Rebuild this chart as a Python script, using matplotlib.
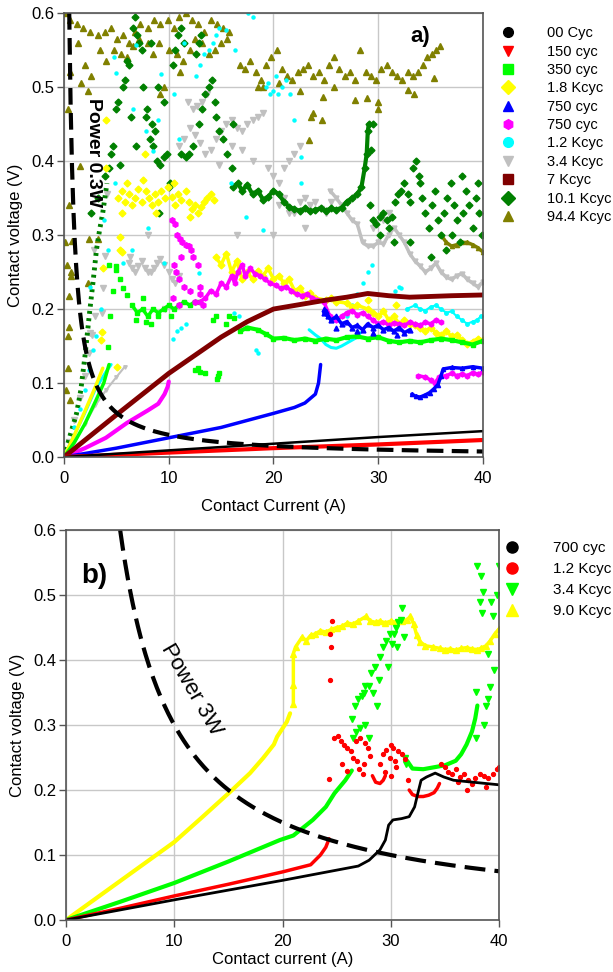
import matplotlib
matplotlib.use("Agg")
import matplotlib.pyplot as plt
from matplotlib.lines import Line2D
import numpy as np

plt.rcParams['font.family'] = ['Liberation Sans', 'DejaVu Sans']

# ---------------- panel a) data (contact current A, contact voltage V) ----------------
POWER_A = 0.3
a_black = [(0, 0), (10, 0.009), (20, 0.018), (30, 0.027), (40, 0.035)]
a_red = [(0, 0), (10, 0.006), (20, 0.012), (30, 0.017), (40, 0.023)]

a_lime_rise = [(0, 0), (1, 0.02), (2, 0.045), (3, 0.075), (3.8, 0.1), (4.3, 0.125)]
a_lime_band1 = [(6.5, 0.205), (7, 0.195), (7.5, 0.2), (8, 0.19), (8.5, 0.2), (9, 0.195), (9.5, 0.2),
                (10, 0.205), (10.5, 0.2), (11, 0.205), (11.5, 0.21), (12, 0.205), (12.5, 0.21), (13, 0.21)]
a_lime_pts = [(4.2, 0.149), (4.4, 0.19), (4.7, 0.225), (5, 0.253), (5.3, 0.24), (5.6, 0.228), (6, 0.219),
              (4.3, 0.26), (5, 0.258), (6.9, 0.185), (7.5, 0.215), (8.3, 0.18), (9, 0.19), (12.5, 0.118),
              (13, 0.115), (13.5, 0.113), (12.8, 0.12), (14.6, 0.105), (14.7, 0.11), (14.8, 0.113),
              (14.2, 0.185), (14.5, 0.19), (15.5, 0.18), (15.8, 0.19), (16.2, 0.188), (7.8, 0.182), (10.2, 0.19)]
a_lime_band2 = [(16.8, 0.17), (17.5, 0.175), (18.5, 0.172), (19.3, 0.166), (20, 0.16), (21, 0.161),
                (22, 0.158), (23, 0.16), (24, 0.157), (25, 0.16), (26, 0.158), (27, 0.162), (28, 0.163),
                (29, 0.16), (30, 0.162), (31, 0.157), (32, 0.155), (33, 0.157), (34, 0.155), (35, 0.158),
                (36, 0.16), (37, 0.158), (38, 0.155), (39, 0.152), (40, 0.157)]

a_yellow_rise = [(0, 0), (1, 0.03), (2, 0.062), (3, 0.095), (3.7, 0.12)]
a_yellow_pts = [(5.2, 0.35), (5.5, 0.36), (5.8, 0.345), (6.2, 0.355), (6.5, 0.34), (6.8, 0.35), (7.1, 0.362),
                (7.4, 0.345), (7.8, 0.36), (8.1, 0.35), (8.4, 0.34), (8.7, 0.355), (9.0, 0.345), (9.3, 0.36),
                (9.6, 0.35), (9.9, 0.365), (10.3, 0.352), (10.6, 0.34), (10.9, 0.355), (11.2, 0.348),
                (11.6, 0.36), (11.9, 0.345), (12.2, 0.335), (12.5, 0.34), (12.8, 0.33), (13.1, 0.338),
                (13.4, 0.345), (13.7, 0.35), (14.0, 0.355), (14.3, 0.348), (5.5, 0.33), (6.0, 0.37),
                (7.5, 0.375), (8.8, 0.33), (10.5, 0.37), (12.0, 0.325), (4.0, 0.456), (4.0, 0.39), (7.7, 0.41),
                (3.7, 0.255), (3.5, 0.158), (5.1, 0.122), (5.3, 0.28), (5.5, 0.277), (5.3, 0.298), (3.6, 0.169),
                (31.7, 0.205), (29, 0.212)]
a_yellow_band = [(14.5, 0.27), (15, 0.26), (15.5, 0.275), (16, 0.25), (16.5, 0.265), (17, 0.24), (17.5, 0.25),
                 (18, 0.24), (18.5, 0.252), (19, 0.245), (19.5, 0.255), (20, 0.24), (20.5, 0.245), (21, 0.235),
                 (21.5, 0.24), (22, 0.225), (22.5, 0.228), (23, 0.218), (23.5, 0.222), (24, 0.215),
                 (25, 0.212), (25.5, 0.215), (26, 0.21), (27, 0.208), (27.5, 0.203), (28, 0.205), (29, 0.2),
                 (29.5, 0.195), (30, 0.19), (30.5, 0.197), (31, 0.185), (31.5, 0.19), (32, 0.18),
                 (32.5, 0.185), (33, 0.18), (33.5, 0.178), (34, 0.175), (34.5, 0.17), (35, 0.175),
                 (35.5, 0.168), (36, 0.165), (36.5, 0.17), (37, 0.163), (37.5, 0.165), (38, 0.158),
                 (38.5, 0.153), (39, 0.156), (39.5, 0.16), (40, 0.158)]

a_blue_rise = [(0, 0), (5, 0.012), (10, 0.026), (15, 0.04), (20, 0.059), (22, 0.067), (23, 0.073),
               (24, 0.085), (24.3, 0.1), (24.5, 0.125)]
a_blue_band = [(24.8, 0.195), (25.2, 0.19), (25.5, 0.185), (26, 0.19), (26.5, 0.18), (27, 0.183),
               (27.5, 0.175), (28, 0.178), (28.5, 0.172), (29, 0.18), (29.5, 0.175), (30, 0.178),
               (30.5, 0.172), (31, 0.175), (31.5, 0.17), (32, 0.175), (32.5, 0.168), (33, 0.172)]
a_blue_pts = [(24.8, 0.2), (25, 0.198), (26, 0.175), (28, 0.17), (29.5, 0.167), (31.8, 0.165)]
a_blue_low = [(33.2, 0.085), (33.6, 0.082), (34, 0.081), (34.5, 0.084), (34.9, 0.087), (35.3, 0.092),
              (35.7, 0.098), (36, 0.11), (36.2, 0.119), (37, 0.121), (38, 0.12), (39, 0.122), (40, 0.12)]

a_mag_rise = [(0, 0), (2, 0.012), (4, 0.026), (6, 0.046), (8, 0.063), (9, 0.072), (9.6, 0.085),
              (9.9, 0.095), (10, 0.102)]
a_mag_pts = [(10.3, 0.32), (10.6, 0.315), (10.8, 0.3), (11.1, 0.295), (11.3, 0.29), (11.6, 0.287),
             (11.9, 0.285), (12.1, 0.28), (10.5, 0.26), (10.7, 0.25), (11, 0.24), (11.2, 0.27), (10.4, 0.215),
             (11.5, 0.23), (12, 0.225), (12.5, 0.21), (13, 0.22), (13.3, 0.205), (11, 0.205), (12.3, 0.27),
             (12.8, 0.26), (13, 0.23)]
a_mag_band = [(13, 0.21), (13.5, 0.215), (14, 0.225), (14.5, 0.22), (15, 0.235), (15.5, 0.23), (16, 0.245),
              (16.3, 0.235), (16.6, 0.25), (17, 0.26), (17.3, 0.245), (17.8, 0.255), (18.2, 0.248),
              (18.7, 0.245), (19.2, 0.24), (19.7, 0.235), (20.2, 0.232), (20.7, 0.228), (21.2, 0.23),
              (21.7, 0.225), (22.2, 0.22), (22.7, 0.218), (23.2, 0.22), (23.7, 0.215), (24.2, 0.212),
              (24.8, 0.21), (25.4, 0.19), (26, 0.185), (26.5, 0.19), (27, 0.195), (27.5, 0.198), (28, 0.192),
              (28.5, 0.195), (29, 0.19), (29.5, 0.185), (30, 0.18), (30.5, 0.183), (31, 0.178),
              (31.5, 0.181), (32, 0.18), (32.5, 0.178), (33, 0.182), (33.5, 0.18), (34, 0.178),
              (34.5, 0.182), (35, 0.18), (35.5, 0.185), (36, 0.182)]
a_mag_low = [(33.8, 0.11), (34.5, 0.108), (35, 0.104), (35.4, 0.1), (35.8, 0.108), (36.5, 0.11), (37, 0.113),
             (37.5, 0.11), (38, 0.112), (38.5, 0.11), (39, 0.114), (39.5, 0.112), (40, 0.115)]

a_cyan_rise = [(0, 0), (1, 0.03), (2, 0.06), (3, 0.092), (4, 0.115), (4.5, 0.125)]
a_cyan_pts = [(0.3, 0.01), (1, 0.04), (1.5, 0.065), (2, 0.09), (2.4, 0.118), (2.8, 0.145), (3.1, 0.163),
              (5.0, 0.519), (6.6, 0.47), (9.3, 0.517), (4.8, 0.541), (8.5, 0.413), (4.9, 0.37), (6.9, 0.557),
              (12.6, 0.515), (13, 0.53), (13.4, 0.545), (13.8, 0.55), (14.2, 0.56), (14.5, 0.57), (14.8, 0.58),
              (15.5, 0.577), (18, 0.595), (17.6, 0.6), (19.3, 0.5), (19.7, 0.49), (20, 0.495), (20.4, 0.49),
              (20.8, 0.5), (21.2, 0.51), (21.6, 0.49), (19.5, 0.505), (20.2, 0.515), (22, 0.456),
              (22.6, 0.406), (22.6, 0.37), (17.4, 0.325), (19, 0.307), (5.6, 0.262), (10.4, 0.16),
              (10.8, 0.17), (11.2, 0.175), (11.6, 0.18), (12.9, 0.249), (16.7, 0.19), (16.2, 0.195),
              (18.3, 0.145), (18.5, 0.14), (3.5, 0.2), (2.5, 0.23), (7.8, 0.44), (9.0, 0.455), (11, 0.43),
              (3.8, 0.32), (4.2, 0.28), (15.9, 0.37), (8, 0.31), (6.5, 0.28), (9.5, 0.262), (11.5, 0.56),
              (16.3, 0.55), (10.5, 0.49), (27, 0.19), (27.5, 0.205), (28, 0.22), (28.5, 0.235), (29, 0.25),
              (29.4, 0.26), (31.6, 0.225), (32, 0.23), (32.2, 0.228)]
a_cyan_arc = [(23.4, 0.172), (24, 0.165), (24.5, 0.16), (25, 0.152), (25.5, 0.148), (26, 0.147), (26.5, 0.15),
              (27, 0.154), (27.5, 0.158), (28, 0.162), (28.3, 0.168)]
a_cyan_end = [(32.7, 0.2), (33.5, 0.205), (34, 0.2), (34.5, 0.198), (35, 0.203), (35.5, 0.205), (36, 0.2),
              (36.5, 0.195), (37, 0.197), (37.5, 0.19), (38, 0.185), (38.5, 0.18), (39, 0.183),
              (39.4, 0.185), (39.8, 0.19)]

a_silver_rise = [(0, 0), (1, 0.02), (2, 0.045), (3, 0.07), (4, 0.09), (5, 0.108), (5.8, 0.122)]
a_silver_pts = [(0.5, 0.02), (1, 0.05), (1.5, 0.08), (2, 0.11), (2.4, 0.14), (2.7, 0.165), (3, 0.19),
                (6.2, 0.262), (6.5, 0.255), (6.8, 0.25), (7.1, 0.258), (7.4, 0.265), (7.7, 0.255), (8, 0.25),
                (8.3, 0.25), (8.6, 0.255), (8.9, 0.262), (9.2, 0.267), (6.3, 0.27), (9.5, 0.26), (10, 0.25),
                (10.3, 0.24), (10.6, 0.235), (11, 0.245), (3.9, 0.271), (3.7, 0.228), (3.6, 0.194),
                (2.9, 0.28), (2.5, 0.167), (4.1, 0.356), (11, 0.42), (11.5, 0.43), (12, 0.445), (12.3, 0.47),
                (12.7, 0.475), (13.2, 0.48), (13.7, 0.49), (11.8, 0.48), (12.5, 0.435), (13, 0.425),
                (13.5, 0.41), (14, 0.415), (14.5, 0.43), (15, 0.44), (15.5, 0.45), (16, 0.455), (16.5, 0.445),
                (17, 0.44), (17.5, 0.45), (18, 0.455), (18.5, 0.46), (19, 0.465), (16, 0.42), (17, 0.415),
                (18, 0.4), (19.5, 0.39), (20, 0.38), (20.5, 0.37), (21, 0.39), (21.5, 0.4), (22, 0.41),
                (22.5, 0.42), (20.5, 0.34), (21, 0.35), (21.5, 0.33), (22, 0.33), (22.5, 0.345), (23, 0.35),
                (23.5, 0.34), (24, 0.345), (24.5, 0.335), (25, 0.33), (25.5, 0.345), (8, 0.3), (9.6, 0.2),
                (20, 0.3), (23, 0.31), (14.8, 0.395), (16.5, 0.3), (30.5, 0.32), (31, 0.33), (29.5, 0.31)]
a_silver_band = [(25.4, 0.36), (26, 0.35), (26.5, 0.34), (27, 0.33), (27.5, 0.32), (28, 0.315), (28.5, 0.29),
                 (29, 0.285), (29.5, 0.285), (30, 0.29), (30.5, 0.288), (31, 0.3), (31.5, 0.31), (32, 0.3),
                 (32.5, 0.29), (33, 0.275), (33.5, 0.265), (34, 0.258), (34.5, 0.25), (35, 0.255),
                 (35.5, 0.262), (36, 0.25), (36.5, 0.243), (37, 0.24), (37.5, 0.245), (38, 0.248),
                 (38.5, 0.24), (39, 0.235), (39.5, 0.23), (40, 0.237)]

a_maroon = [(0, 0), (5, 0.057), (10, 0.113), (15, 0.162), (17.5, 0.183), (20, 0.2), (22.5, 0.206),
            (25, 0.212), (27, 0.216), (29, 0.221), (31, 0.218), (33, 0.216), (35, 0.217), (37, 0.218),
            (40, 0.219)]

a_green_rise = [(0, 0), (0.6, 0.03), (1.2, 0.059), (1.6, 0.09), (2, 0.136), (2.4, 0.19), (2.8, 0.24),
                (3.1, 0.28), (3.4, 0.307), (3.7, 0.33), (4.1, 0.37)]
a_green_pts = [(4.3, 0.39), (4.5, 0.41), (4.7, 0.42), (5.0, 0.47), (5.2, 0.48), (5.3, 0.395), (5.6, 0.5),
               (5.8, 0.51), (6.0, 0.535), (6.2, 0.53), (6.6, 0.58), (6.8, 0.595), (7.0, 0.57), (7.2, 0.56),
               (7.4, 0.55), (7.8, 0.46), (7.9, 0.47), (8.2, 0.43), (8.4, 0.45), (8.7, 0.44), (8.9, 0.4),
               (9.2, 0.395), (9.5, 0.405), (9.8, 0.41), (10.1, 0.37), (10.0, 0.365), (9.0, 0.5), (9.5, 0.48),
               (10.4, 0.53), (10.6, 0.55), (10.9, 0.57), (11.2, 0.58), (11.5, 0.56), (11.2, 0.41),
               (11.6, 0.405), (11.9, 0.41), (12.3, 0.42), (12.6, 0.545), (12.9, 0.56), (13.1, 0.57),
               (12.9, 0.45), (13.2, 0.47), (13.5, 0.49), (13.8, 0.5), (14.1, 0.51), (14.4, 0.48),
               (14.5, 0.46), (14.8, 0.44), (15.2, 0.43), (15.6, 0.41), (16, 0.39), (16.1, 0.45), (6.4, 0.46),
               (6.9, 0.42), (7.5, 0.5), (8.3, 0.56), (9.1, 0.33), (8.5, 0.42), (2.6, 0.33), (3.2, 0.35),
               (3.9, 0.38), (29.5, 0.45), (29.3, 0.415), (29.2, 0.34), (29.5, 0.32), (29.8, 0.315),
               (30.2, 0.325), (30.5, 0.33), (30.8, 0.32), (31, 0.31), (31.3, 0.325), (31.6, 0.345),
               (31.9, 0.355), (32.2, 0.36), (32.5, 0.37), (32.8, 0.355), (33, 0.345), (33.3, 0.39),
               (33.6, 0.4), (33.9, 0.38), (34.2, 0.35), (34.5, 0.33), (34.8, 0.31), (35.1, 0.34),
               (35.4, 0.36), (35.7, 0.32), (36, 0.3), (36.3, 0.33), (36.6, 0.35), (36.9, 0.37), (37.2, 0.34),
               (37.5, 0.32), (37.8, 0.29), (38.1, 0.33), (38.4, 0.36), (38.7, 0.34), (39, 0.31), (39.3, 0.35),
               (39.6, 0.33), (39.9, 0.3), (30.2, 0.3), (31.5, 0.29), (33, 0.29), (34, 0.37), (35, 0.27),
               (36.5, 0.28), (38, 0.38), (39.5, 0.37), (37, 0.3)]
a_green_band = [(16.1, 0.365), (16.6, 0.37), (17, 0.36), (17.5, 0.368), (18, 0.355), (18.5, 0.36),
                (19, 0.348), (19.5, 0.352), (20, 0.36), (20.5, 0.355), (21, 0.345), (21.5, 0.338),
                (22, 0.335), (22.5, 0.333), (23, 0.336), (23.5, 0.332), (24, 0.334), (24.5, 0.336),
                (25, 0.333), (25.5, 0.336), (26, 0.334), (26.5, 0.337), (27, 0.345), (27.5, 0.35),
                (28, 0.355), (28.4, 0.365), (28.7, 0.39), (28.9, 0.41), (29, 0.44), (29.1, 0.45)]

a_olive_pts = [(0.2, 0.6), (0.6, 0.59), (1.2, 0.585), (1.8, 0.58), (2.5, 0.575), (3.2, 0.57), (3.9, 0.575),
               (4.5, 0.58), (5.1, 0.565), (5.6, 0.57), (6.2, 0.56), (6.8, 0.575), (7.3, 0.585), (8.0, 0.58),
               (8.6, 0.59), (9.2, 0.585), (9.9, 0.59), (10.5, 0.58), (11.0, 0.595), (11.6, 0.6), (12.2, 0.59),
               (12.8, 0.585), (13.4, 0.575), (14.0, 0.59), (14.6, 0.585), (15.2, 0.58), (15.8, 0.575),
               (0.6, 0.52), (1.3, 0.56), (2.0, 0.53), (2.6, 0.515), (3.4, 0.55), (4.0, 0.535), (4.8, 0.55),
               (5.4, 0.545), (6.0, 0.54), (6.6, 0.555), (7.2, 0.565), (8.0, 0.56), (8.5, 0.545), (9.1, 0.56),
               (10.0, 0.55), (10.8, 0.545), (11.4, 0.535), (12.0, 0.55), (12.5, 0.565), (13.2, 0.56),
               (13.8, 0.545), (14.4, 0.55), (15.0, 0.56), (15.6, 0.565), (9.5, 0.5), (9.2, 0.49),
               (11.1, 0.52), (1.6, 0.505), (2.3, 0.495), (0.4, 0.47), (16.8, 0.53), (17.3, 0.525),
               (17.8, 0.535), (18.3, 0.52), (18.8, 0.51), (19.3, 0.53), (19.8, 0.54), (20.3, 0.55),
               (20.8, 0.525), (21.3, 0.515), (21.8, 0.51), (22.3, 0.52), (22.8, 0.525), (23.3, 0.53),
               (23.8, 0.515), (24.3, 0.52), (24.8, 0.51), (25.3, 0.53), (25.8, 0.54), (26.3, 0.525),
               (26.8, 0.515), (27.3, 0.52), (27.8, 0.51), (28.3, 0.55), (28.8, 0.52), (29.3, 0.515),
               (29.8, 0.51), (30.3, 0.525), (30.8, 0.53), (31.3, 0.52), (31.8, 0.515), (32.3, 0.51),
               (32.8, 0.52), (33.3, 0.515), (33.8, 0.52), (34.3, 0.53), (34.7, 0.54), (35.1, 0.545),
               (35.5, 0.55), (35.9, 0.555), (18.5, 0.5), (19, 0.5), (20.5, 0.505), (22.5, 0.495),
               (24.6, 0.455), (24.7, 0.486), (25.8, 0.5), (27.8, 0.483), (28.9, 0.485), (30, 0.47),
               (30, 0.48), (32.8, 0.496), (33.4, 0.49), (35.3, 0.512), (23.6, 0.46), (23.4, 0.428),
               (23.8, 0.465), (0.5, 0.34), (1.5, 0.393), (2.4, 0.294), (0.1, 0.29), (0.3, 0.26), (0.7, 0.25),
               (0.5, 0.217), (0.4, 0.163), (0.4, 0.12), (0.2, 0.09), (2.3, 0.235), (3.2, 0.294), (0.7, 0.244),
               (0.5, 0.176), (0.6, 0.077), (0.3, 0.01), (0.8, 0.292)]
a_olive_end = [(36, 0.3), (36.5, 0.29), (37, 0.285), (37.5, 0.287), (38, 0.29), (38.5, 0.29), (39, 0.287),
               (39.5, 0.283), (40, 0.277)]

a_labels = ["00 Cyc", "150 cyc", "350 cyc", "1.8 Kcyc", "750 cyc", "750 cyc", "1.2 Kcyc",
            "3.4 Kcyc", "7 Kcyc", "10.1 Kcyc", "94.4 Kcyc"]

# ---------------- panel b) data ----------------
POWER_B = 3.0
b_black = [(0, 0), (10, 0.031), (20, 0.061), (27, 0.083), (28, 0.092), (29, 0.108), (29.5, 0.123),
           (29.8, 0.146), (30.2, 0.154), (31, 0.156), (31.7, 0.159), (32.2, 0.174), (32.5, 0.195),
           (32.8, 0.215), (33.3, 0.22), (34.1, 0.226), (34.9, 0.22), (35.8, 0.215), (37, 0.213),
           (38.2, 0.211), (40, 0.208)]

b_red_rise = [(0, 0), (5, 0.018), (10, 0.037), (15, 0.055), (20, 0.074), (22.6, 0.085), (23.5, 0.1),
              (24, 0.112), (24.3, 0.125)]
b_red_pts = [(24.4, 0.37), (24.4, 0.44), (24.5, 0.42), (24.6, 0.46), (24.3, 0.217), (24.8, 0.28),
             (25.1, 0.283), (25.4, 0.275), (25.7, 0.27), (26.0, 0.265), (26.3, 0.26), (26.5, 0.25),
             (26.9, 0.245), (27.1, 0.232), (27.5, 0.24), (26.8, 0.275), (27.2, 0.28), (27.6, 0.272),
             (27.9, 0.265), (28.1, 0.253), (25.5, 0.24), (26, 0.23), (27.4, 0.225), (29, 0.24), (29.3, 0.255),
             (29.6, 0.262), (30, 0.27), (30.2, 0.265), (29.9, 0.25), (30.4, 0.245), (30.7, 0.26), (31, 0.255),
             (31.3, 0.248), (29.5, 0.228), (30, 0.222), (30.5, 0.235), (31.6, 0.215), (34.6, 0.24),
             (35, 0.235), (35.3, 0.228), (35.7, 0.225), (36, 0.232), (36.4, 0.22), (36.8, 0.225),
             (37.1, 0.215), (37.5, 0.21), (37.8, 0.218), (38.2, 0.225), (38.6, 0.222), (39, 0.218),
             (39.4, 0.225), (39.8, 0.232), (40, 0.235), (37, 0.2), (36.2, 0.212), (38.8, 0.205)]
b_red_dip1 = [(28.3, 0.222), (28.6, 0.212), (29, 0.21), (29.3, 0.215), (29.5, 0.222)]
b_red_dip2 = [(31.7, 0.2), (32, 0.193), (32.5, 0.19), (33, 0.19), (33.5, 0.192), (34, 0.196), (34.3, 0.203),
              (34.5, 0.21)]

b_lime_rise = [(0, 0), (5, 0.028), (10, 0.057), (15, 0.09), (19.75, 0.123), (21, 0.13), (21.6, 0.138),
               (22.8, 0.154), (24, 0.174), (24.8, 0.195), (25.8, 0.215), (26.4, 0.23)]
b_lime_pts = [(26.5, 0.28), (26.8, 0.29), (27.2, 0.295), (27.6, 0.3), (26.4, 0.31), (26.7, 0.33), (27, 0.34),
              (27.3, 0.345), (27.6, 0.36), (27.5, 0.35), (28, 0.36), (28.2, 0.38), (28.5, 0.39), (28.4, 0.35),
              (28.9, 0.37), (29, 0.405), (29.3, 0.42), (29.6, 0.43), (29.9, 0.44), (30.1, 0.425), (30.3, 0.44),
              (30.5, 0.45), (30.7, 0.458), (31, 0.48), (30.9, 0.462), (31.2, 0.436), (30.6, 0.42), (29.7, 0.39),
              (28.7, 0.33), (28, 0.28), (31.3, 0.25), (31.4, 0.24), (37.9, 0.351), (38.8, 0.33), (39, 0.34),
              (39.2, 0.358), (39.5, 0.384), (37.9, 0.28), (38, 0.544), (38.3, 0.53), (38.5, 0.505),
              (38.2, 0.49), (38.4, 0.472), (39.3, 0.49), (39.4, 0.467), (39.8, 0.5), (40, 0.545),
              (38.6, 0.3), (39, 0.41)]
b_lime_band = [(31.5, 0.245), (32, 0.233), (33, 0.232), (34, 0.235), (35, 0.238), (36, 0.245), (36.5, 0.255),
               (37, 0.27), (37.5, 0.29), (37.8, 0.31), (38, 0.33)]

b_yellow_rise = [(0, 0), (5, 0.06), (10, 0.12), (12.5, 0.157), (15.15, 0.197), (17, 0.226), (18.2, 0.249),
                 (19.2, 0.27), (19.5, 0.282), (20.4, 0.305), (20.7, 0.318)]
b_yellow_band = [(21, 0.333), (21, 0.362), (21, 0.41), (21.2, 0.42), (21.8, 0.435), (22.2, 0.43),
                 (22.6, 0.438), (23, 0.44), (23.5, 0.445), (24, 0.443), (24.5, 0.447), (25, 0.45),
                 (25.5, 0.452), (26, 0.457), (26.5, 0.455), (27, 0.46), (27.7, 0.467), (28.1, 0.46),
                 (28.6, 0.458), (29, 0.46), (29.5, 0.457), (30, 0.46), (30.5, 0.458), (31, 0.46), (31.5, 0.462),
                 (31.8, 0.467), (32.1, 0.456), (32.4, 0.438), (32.7, 0.428), (33.2, 0.422), (33.9, 0.42),
                 (34.5, 0.418), (35, 0.416), (35.5, 0.417), (36, 0.415), (36.5, 0.418), (37, 0.419),
                 (37.5, 0.417), (38, 0.416), (38.3, 0.418), (38.8, 0.422), (39.2, 0.43), (39.6, 0.44),
                 (40, 0.448)]

b_labels = ["700 cyc", "1.2 Kcyc", "3.4 Kcyc", "9.0 Kcyc"]

# colours / markers
BLACK, RED, LIME, YELLOW = '#000000', '#ff0000', '#00ff00', '#ffff00'
BLUE, MAGENTA, CYAN, SILVER = '#0000ff', '#ff00ff', '#00ffff', '#c0c0c0'
MAROON, GREEN, OLIVE = '#800000', '#008000', '#808000'


def track(ax, pts, color, lw, marker=None, ms=0, ls='-'):
    x, y = zip(*pts)
    ax.plot(x, y, color=color, lw=lw, ls=ls, marker=marker, ms=ms, mec=color, mfc=color,
            solid_capstyle='round')


def dots(ax, pts, color, marker, ms):
    x, y = zip(*pts)
    ax.plot(x, y, ls='none', marker=marker, ms=ms, color=color, mec=color, mfc=color)


def style_axes(ax, xlabel):
    ax.set_xlim(0, 40)
    ax.set_ylim(0, 0.6)
    ax.set_xticks([0, 10, 20, 30, 40])
    ax.set_yticks(np.arange(0, 0.61, 0.1))
    ax.yaxis.set_major_formatter(plt.FormatStrFormatter('%.1f'))
    ax.grid(True, color='#c8c8c8', lw=1)
    ax.set_axisbelow(True)
    for s in ax.spines.values():
        s.set_color('#555555')
        s.set_linewidth(1.2)
    ax.tick_params(axis='both', direction='out', length=5, width=1, color='#555555',
                   labelsize=12, top=False, right=False)
    ax.tick_params(axis='y', pad=2)
    ax.tick_params(axis='x', pad=5)
    ax.set_xlabel(xlabel, fontsize=12)
    ax.set_ylabel('Contact voltage (V)', fontsize=12)


fig = plt.figure(figsize=(6.13, 9.72), dpi=100)

# ---------------- panel a ----------------
ax = fig.add_axes([0.1044, 0.5298, 0.6835, 0.4568])
style_axes(ax, 'Contact Current (A)')
ax.yaxis.set_label_coords(-0.097, 0.5)
ax.xaxis.set_label_coords(0.5, -0.095)

dots(ax, a_olive_pts, OLIVE, '^', 4)
track(ax, a_olive_end, OLIVE, 2.5, '^', 3)
track(ax, a_silver_rise, SILVER, 1.5, 'v', 2.5)
dots(ax, a_silver_pts, SILVER, 'v', 4)
track(ax, a_silver_band, SILVER, 2.5, 'v', 3.5)
track(ax, a_green_rise, GREEN, 3.5, ls=(0, (0.6, 0.9)))
dots(ax, a_green_pts, GREEN, 'D', 3.5)
track(ax, a_green_band, GREEN, 3, 'D', 3.5)
dots(ax, a_cyan_pts, CYAN, 'o', 2.2)
track(ax, a_cyan_rise, CYAN, 2.2)
track(ax, a_cyan_arc, CYAN, 2.2)
track(ax, a_cyan_end, CYAN, 1.5, 'o', 2.5)
track(ax, a_yellow_rise, YELLOW, 2.5)
dots(ax, a_yellow_pts, YELLOW, 'D', 3.5)
track(ax, a_yellow_band, YELLOW, 2.5, 'D', 3.5)
track(ax, a_lime_rise, LIME, 2.5)
track(ax, a_lime_band1, LIME, 2.5, 's', 3.5)
dots(ax, a_lime_pts, LIME, 's', 3.5)
track(ax, a_lime_band2, LIME, 3, 's', 3)
track(ax, a_mag_rise, MAGENTA, 3)
dots(ax, a_mag_pts, MAGENTA, 'h', 4)
track(ax, a_mag_band, MAGENTA, 2.5, 'h', 3.5)
track(ax, a_mag_low, MAGENTA, 2.5, 'h', 3.5)
track(ax, a_blue_rise, BLUE, 2.5)
track(ax, a_blue_band, BLUE, 2.5, '^', 3.5)
dots(ax, a_blue_pts, BLUE, '^', 3.5)
track(ax, a_blue_low, BLUE, 2.5, '^', 3)
track(ax, a_maroon, MAROON, 3.5)
track(ax, a_red, RED, 3)
track(ax, a_black, BLACK, 1.8)

cur_a = np.linspace(POWER_A / 0.6, 40, 300)
ax.plot(cur_a, POWER_A / cur_a, color='black', lw=3, ls=(0, (4, 2)))
ax.text(2.8, 0.412, 'Power 0.3W', rotation=-90, fontsize=14, fontweight='bold',
        ha='center', va='center')
ax.text(34, 0.568, 'a)', fontsize=16, fontweight='bold', ha='center', va='center')

a_handles = [Line2D([], [], ls='none', marker=m, color=c, ms=7)
             for m, c in zip(['o', 'v', 's', 'D', '^', 'h', 'o', 'v', 's', 'D', '^'],
                             [BLACK, RED, LIME, YELLOW, BLUE, MAGENTA, CYAN, SILVER, MAROON, GREEN, OLIVE])]
fig.legend(a_handles, a_labels, loc='upper left', bbox_to_anchor=(0.811, 0.973), frameon=False,
           fontsize=10.5, handlelength=1.5, handletextpad=1.9, labelspacing=0.3, borderpad=0,
           borderaxespad=0)

# ---------------- panel b ----------------
bx = fig.add_axes([0.1077, 0.0535, 0.7064, 0.4012])
style_axes(bx, 'Contact current (A)')
bx.yaxis.set_label_coords(-0.095, 0.5)
bx.xaxis.set_label_coords(0.5, -0.083)

track(bx, b_yellow_rise, YELLOW, 3)
track(bx, b_yellow_band, YELLOW, 2.5, '^', 4)
track(bx, b_lime_rise, LIME, 3)
dots(bx, b_lime_pts, LIME, 'v', 4)
track(bx, b_lime_band, LIME, 3)
track(bx, b_red_rise, RED, 2.5)
dots(bx, b_red_pts, RED, 'o', 2.8)
track(bx, b_red_dip1, RED, 2.5)
track(bx, b_red_dip2, RED, 2.5)
track(bx, b_black, BLACK, 2)

cur_b = np.linspace(POWER_B / 0.6, 40, 300)
bx.plot(cur_b, POWER_B / cur_b, color='black', lw=3, ls=(0, (5, 2.2)))
bx.text(11.6, 0.355, 'Power 3W', rotation=-60, fontsize=16, ha='center', va='center')
bx.text(2.6, 0.53, 'b)', fontsize=20, fontweight='bold', ha='center', va='center')

b_handles = [Line2D([], [], ls='none', marker=m, color=c, ms=8)
             for m, c in zip(['o', 'o', 'v', '^'], [BLACK, RED, LIME, YELLOW])]
fig.legend(b_handles, b_labels, loc='upper left', bbox_to_anchor=(0.817, 0.443), frameon=False,
           fontsize=11, handlelength=1.5, handletextpad=1.9, labelspacing=0.45, borderpad=0,
           borderaxespad=0)

fig.savefig('out.png', dpi=100)
